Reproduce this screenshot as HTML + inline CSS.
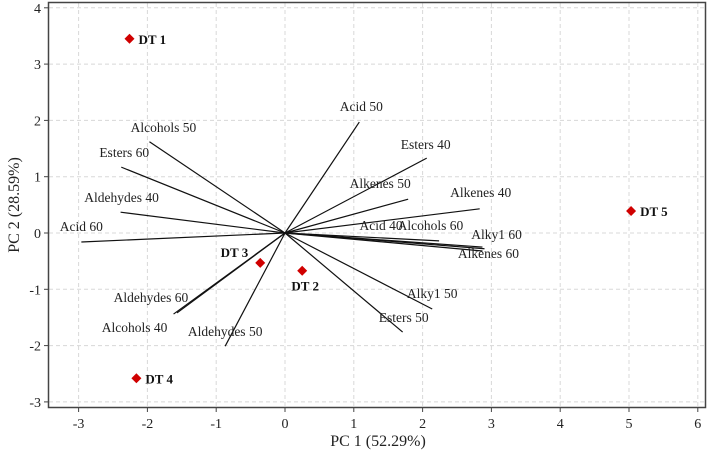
<!DOCTYPE html>
<html><head><meta charset="utf-8"><style>
html,body{margin:0;padding:0;background:#fff;}
svg{display:block;font-family:"Liberation Serif",serif;}
</style></head><body>
<svg id="chart" width="709" height="456">
<rect x="0" y="0" width="709" height="456" fill="#fff"/>
<g id="grid"></g>
<g id="vectors"></g>
<g id="points"></g>
<rect x="48.5" y="2.5" width="657" height="405" fill="none" stroke="#444" stroke-width="1.5"/>
<g id="axes"></g>
<text x="378" y="446" text-anchor="middle" font-size="16" fill="#222">PC 1 (52.29%)</text>
<text x="0" y="0" transform="translate(19,205) rotate(-90)" text-anchor="middle" font-size="16" fill="#222">PC 2 (28.59%)</text>
</svg>
<script>
const xTicks=[-3,-2,-1,0,1,2,3,4,5,6];
const yTicks=[-3,-2,-1,0,1,2,3,4];
const vecNames=["Alcohols 50","Esters 60","Aldehydes 40","Acid 60","Acid 50","Esters 40","Alkenes 50","Alkenes 40","Acid 40","Alcohols 60","Alky1 60","Alkenes 60","Alky1 50","Esters 50","Aldehydes 50","Aldehydes 60","Alcohols 40"];
const vecX=[-1.97,-2.38,-2.39,-2.96,1.08,2.06,1.79,2.83,2.24,2.87,2.90,2.87,2.14,1.71,-0.87,-1.57,-1.62];
const vecY=[1.62,1.17,0.37,-0.16,1.97,1.33,0.60,0.43,-0.14,-0.25,-0.28,-0.32,-1.35,-1.76,-2.01,-1.42,-1.44];
const labDX=[14,3,1,0,2,-1,-28,1,-58,-52,12,6,0,1,0,-26,-39];
const labDY=[-14,-14,-14,-15,-15,-13,-15,-16,-15,-21,-14,3,-15,-14,-14,-15,14];
const ptNames=["DT 1","DT 2","DT 3","DT 4","DT 5"];
const ptX=[-2.26,0.25,-0.36,-2.16,5.03];
const ptY=[3.45,-0.67,-0.53,-2.58,0.39];
const ptLabPos=["right","below","left","right","right"];

const X0=285,XU=68.8,Y0=233,YU=56.3;
const sx=v=>X0+v*XU, sy=v=>Y0-v*YU;
const NS="http://www.w3.org/2000/svg";
function mk(t,a,p){const e=document.createElementNS(NS,t);for(const k in a)e.setAttribute(k,a[k]);p.appendChild(e);return e;}
const grid=document.getElementById('grid'),axes=document.getElementById('axes');
xTicks.forEach(v=>{
  const gl=mk('line',{x1:sx(v),x2:sx(v),y1:3,y2:407,stroke:'#d8d8d8','stroke-dasharray':'4,3'},grid);
  
  
  const tk=mk('line',{x1:sx(v),x2:sx(v),y1:407,y2:412,stroke:'#444'},axes);
  
  
  const t=mk('text',{x:sx(v),y:428,'text-anchor':'middle','font-size':14,fill:'#222'},axes);
  t.textContent=v;
  
  
});
yTicks.forEach(v=>{
  const gl=mk('line',{x1:49,x2:705,y1:sy(v),y2:sy(v),stroke:'#d8d8d8','stroke-dasharray':'4,3'},grid);
  
  
  const tk=mk('line',{x1:44,x2:49,y1:sy(v),y2:sy(v),stroke:'#444'},axes);
  
  
  const t=mk('text',{x:41,y:sy(v)+5,'text-anchor':'end','font-size':14,fill:'#222'},axes);
  t.textContent=v;
  
  
});
const vg=document.getElementById('vectors');
vecNames.forEach((n,i)=>{
  const ex=sx(vecX[i]),ey=sy(vecY[i]);
  const l=mk('line',{x1:sx(0),y1:sy(0),x2:ex,y2:ey,stroke:'#111','stroke-width':1.2},vg);
  
  
  const t=mk('text',{x:ex+labDX[i],y:ey+labDY[i]+4,'text-anchor':'middle','font-size':13.5,fill:'#222'},vg);
  t.textContent=n;
  
  
});
const pg=document.getElementById('points');
ptNames.forEach((n,i)=>{
  const cx=sx(ptX[i]),cy=sy(ptY[i]);
  const p=mk('polygon',{points:`${cx},${cy-5} ${cx+5},${cy} ${cx},${cy+5} ${cx-5},${cy}`,fill:'#d00000'},pg);
  
  
  let a={x:cx+9,y:cy+5,'text-anchor':'start'};
  if(ptLabPos[i]==='below')a={x:cx+3,y:cy+20,'text-anchor':'middle'};
  if(ptLabPos[i]==='left')a={x:cx-12,y:cy-6,'text-anchor':'end'};
  a['font-size']=13;a['font-weight']='bold';a.fill='#111';
  const t=mk('text',a,pg);
  t.textContent=n;
  
  
});
</script>
</body></html>
